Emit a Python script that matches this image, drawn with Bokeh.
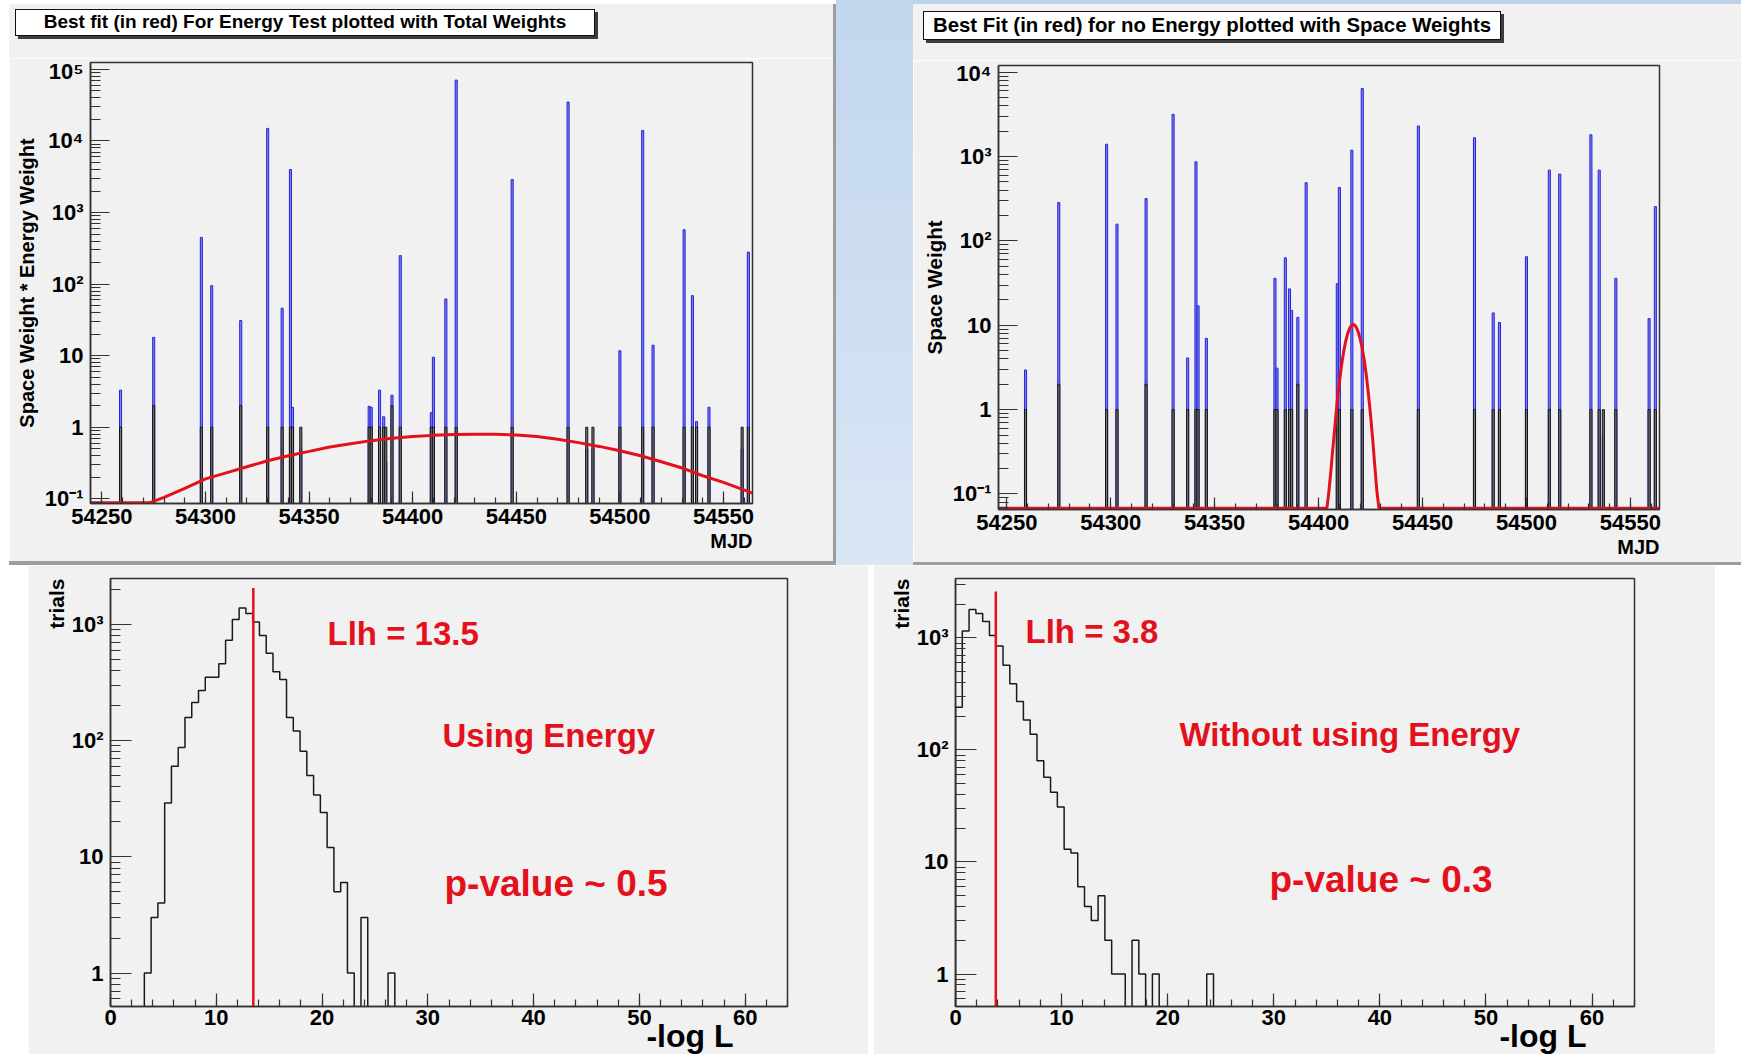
from bokeh.plotting import figure
from bokeh.models import Range1d, FixedTicker, CustomJSTickFormatter, Label, Div, Title
from bokeh.layouts import row, column
from bokeh.embed import file_html
from bokeh.resources import INLINE
import math

# ---------------- data ----------------
# event days (MJD bins), event counts (black histogram) and the two weightings (blue histograms)
event_mjd = [54259, 54275, 54298, 54303, 54317, 54330, 54337, 54341, 54342, 54346,
             54379, 54380, 54384, 54386, 54387, 54390, 54394, 54409, 54410, 54416,
             54421, 54448, 54475, 54484, 54487, 54500, 54511, 54516, 54531, 54535,
             54537, 54543, 54559, 54562]
event_counts = [1, 2, 1, 1, 2, 1, 1, 1, 1, 1,
                1, 1, 1, 1, 1, 2, 1, 1, 1, 1,
                1, 1, 1, 1, 1, 1, 1, 1, 1, 1,
                1, 1, 1, 1]
total_weights = [3.3, 18, 450, 95, 31, 15000, 46, 4000, 1.9, 0.5,
                 1.96, 1.9, 3.3, 1.4, 0.33, 2.8, 250, 1.6, 9.5, 62,
                 71000, 2900, 35000, 0.5, 0.5, 11.7, 14000, 14, 575, 69,
                 1.2, 1.9, 0.5, 280]
space_weights = [2.95, 285, 1400, 158, 317, 3165, 4.1, 865, 17, 7,
                 36, 3.1, 63, 27, 15, 12.4, 490, 31, 430, 1190,
                 6400, 2300, 1670, 14, 10.8, 65, 690, 620, 1810, 690,
                 0.5, 36, 12, 255]

# best-fit curves (red)
fit_energy_mjd = [54244.5, 54273, 54280, 54290, 54300, 54310, 54320, 54330, 54340, 54350,
                  54360, 54370, 54380, 54390, 54400, 54410, 54420, 54430, 54440, 54450,
                  54460, 54470, 54480, 54490, 54500, 54510, 54520, 54530, 54540, 54550, 54564]
fit_energy_val = [0.088, 0.088, 0.105, 0.14, 0.19, 0.23, 0.28, 0.34, 0.40, 0.46,
                  0.53, 0.59, 0.65, 0.70, 0.74, 0.77, 0.79, 0.80, 0.80, 0.78,
                  0.74, 0.68, 0.61, 0.54, 0.47, 0.40, 0.33, 0.27, 0.21, 0.17, 0.12]
fit_space_mjd = [54246, 54404, 54405, 54406, 54407, 54408, 54409, 54410, 54411, 54412,
                 54413, 54414, 54415, 54416, 54417, 54418, 54419, 54420, 54421, 54422,
                 54423, 54424, 54425, 54426, 54427, 54428, 54429, 54564]
fit_space_val = [0.068, 0.068, 0.11, 0.2, 0.38, 0.7, 1.3, 2.1, 3.3, 4.8,
                 6.4, 8.0, 9.3, 10.1, 10.2, 9.6, 8.4, 6.9, 5.3, 3.8,
                 2.5, 1.5, 0.85, 0.45, 0.22, 0.11, 0.068, 0.068]

# tick labels
mjd_ticks = [54250, 54300, 54350, 54400, 54450, 54500, 54550]
total_weight_ticks = [0.1, 1, 10, 100, 1000, 10000, 100000]
space_weight_ticks = [0.1, 1, 10, 100, 1000, 10000]
llh_ticks = [0, 10, 20, 30, 40, 50, 60]
trial_ticks = [1, 10, 100, 1000]

# trial histograms of -log L (100 bins on [0, 64])
llh_bin_width = 0.64
energy_first_bin = 5
energy_trials = [1, 3, 4, 29, 60, 87, 158, 213, 270, 350,
                 350, 458, 730, 1100, 1380, 1240, 1050, 800, 565, 390,
                 335, 158, 121, 81, 50, 34, 24, 12, 5, 6,
                 1, 0, 3, 0, 0, 0, 1]
noenergy_first_bin = 0
noenergy_trials = [240, 1150, 1790, 1650, 1400, 1050, 845, 570, 390, 270,
                   185, 138, 80, 57, 42, 31, 13, 12, 6, 4,
                   3, 5, 2, 1, 1, 0, 2, 1, 0, 1,
                   0, 0, 0, 0, 0, 0, 0, 1]
llh_energy = 13.5
llh_noenergy = 3.8
cut_top_energy = 2050
cut_top_noenergy = 2600

# ---------------- styling ----------------
FONT = "Liberation Sans"
BG = "#f1f1f1"
AX = "#333333"
RED = "#e3111c"

LOG_CODE = """
const e = Math.round(Math.log10(tick));
if (e === 0) return "1";
if (e === 1) return "10";
const m = {"-": "⁻", "0": "⁰", "1": "¹", "2": "²", "3": "³", "4": "⁴", "5": "⁵", "6": "⁶", "7": "⁷", "8": "⁸", "9": "⁹"};
return "10" + String(e).split("").map(c => m[c]).join("");
"""


def log_minor(lo, hi):
    return [k * 10.0 ** e for e in range(lo, hi + 1) for k in range(2, 10)]


def base_fig(width, height, xr, yr, borders, xticks, xminor, yticks, yminor,
             xlen, ylen, xstand):
    p = figure(width=width, height=height, x_range=Range1d(*xr), y_range=Range1d(*yr),
               y_axis_type="log", output_backend="svg", toolbar_location=None,
               min_border_left=borders[0], min_border_right=borders[1],
               min_border_top=borders[2], min_border_bottom=borders[3])
    p.title.visible = False
    p.background_fill_color = BG
    p.border_fill_color = BG
    p.outline_line_color = AX
    p.outline_line_width = 1.5
    p.xgrid.visible = False
    p.ygrid.visible = False
    xa = p.xaxis[0]
    ya = p.yaxis[0]
    xa.ticker = FixedTicker(ticks=xticks, minor_ticks=xminor)
    ya.ticker = FixedTicker(ticks=yticks, minor_ticks=yminor)
    xa.formatter = CustomJSTickFormatter(code="return tick.toFixed(0);")
    ya.formatter = CustomJSTickFormatter(code=LOG_CODE)
    for ax in (xa, ya):
        ax.axis_line_color = AX
        ax.axis_line_width = 1.5
        ax.major_tick_line_color = AX
        ax.minor_tick_line_color = AX
        ax.major_tick_line_width = 1.2
        ax.minor_tick_line_width = 1.2
        ax.major_tick_out = 0
        ax.minor_tick_out = 0
        ax.major_label_text_font = FONT
        ax.major_label_text_font_style = "bold"
        ax.major_label_text_font_size = "22px"
        ax.major_label_text_color = "black"
    xa.major_tick_in, xa.minor_tick_in = xlen
    ya.major_tick_in, ya.minor_tick_in = ylen
    xa.major_label_standoff = xstand
    ya.major_label_standoff = 7
    return p


def side_title(p, text, side, size, align, offset, standoff, valign):
    t = Title(text=text, align=align, offset=offset, vertical_align=valign,
              text_font=FONT, text_font_style="bold", text_font_size=size,
              text_color="black")
    try:
        t.standoff = standoff
    except Exception:
        t.standoff = 0
    p.add_layout(t, side)


def in_label(xr, yr, dx, dy, text, size):
    return Label(x=xr[0], y=yr[0], x_offset=dx, y_offset=dy, text=text,
                 text_align="left", text_baseline="middle",
                 text_font=FONT, text_font_style="bold", text_font_size=size,
                 text_color=RED)


def top_panel(width, height, borders, xr, yr, yticks, weights, fit_x, fit_y,
              ylabel, ylabel_size):
    exps = [round(math.log10(t)) for t in yticks]
    p = base_fig(width, height, xr, yr, borders,
                 mjd_ticks, list(range(54250, 54561, 10)),
                 yticks, log_minor(min(exps) - 1, max(exps)),
                 (12, 6), (19, 10), 5)
    floor = yr[0] * 1e-3
    n = len(event_mjd)
    lefts = [m - 0.5 for m in event_mjd]
    rights = [m + 0.5 for m in event_mjd]
    p.quad(left=lefts, right=rights, bottom=[floor] * n, top=weights,
           fill_color="#8282f0", line_color="#2424d8", line_width=1)
    p.quad(left=lefts, right=rights, bottom=[floor] * n, top=event_counts,
           fill_color="#7a7a7a", line_color="#141414", line_width=1)
    p.line(fit_x, fit_y, line_color=RED, line_width=3)
    ya = p.yaxis[0]
    ya.axis_label = ylabel
    ya.axis_label_text_font = FONT
    ya.axis_label_text_font_style = "bold"
    ya.axis_label_text_font_size = ylabel_size
    ya.axis_label_text_color = "black"
    ya.axis_label_standoff = 4
    side_title(p, "MJD", "below", "20px", "right", 0, 6, "top")
    return p


def outline(first_bin, counts, floor):
    xs = [first_bin * llh_bin_width]
    ys = [floor]
    hi = xs[0]
    for i, c in enumerate(counts):
        lo = (first_bin + i) * llh_bin_width
        hi = lo + llh_bin_width
        v = c if c > 0 else floor
        xs += [lo, hi]
        ys += [v, v]
    xs.append(hi)
    ys.append(floor)
    return xs, ys


def bottom_panel(width, height, borders, yr, first_bin, counts, llh, cut_top,
                 texts, logl_dx):
    xr = (0, 64)
    p = base_fig(width, height, xr, yr, borders,
                 llh_ticks, list(range(0, 65, 2)),
                 trial_ticks, log_minor(-1, 3), (13, 7), (21, 10), 3)
    floor = yr[0] * 1e-3
    xs, ys = outline(first_bin, counts, floor)
    p.line(xs, ys, line_color="#1a1a1a", line_width=1.5)
    p.line([llh, llh], [floor, cut_top], line_color=RED, line_width=2.5)
    for (dx, dy, t, s) in texts:
        p.add_layout(in_label(xr, yr, dx, dy, t, s))
    side_title(p, "-log L", "below", "32px", "right", logl_dx, -19, "top")
    side_title(p, "trials", "left", "21px", "right", 0, 0, "middle")
    return p


figTL = top_panel(824, 503, (81, 81, 4, 58), (54244.5, 54564), (0.086, 1.25e5),
                  total_weight_ticks, total_weights, fit_energy_mjd, fit_energy_val,
                  "Space Weight * Energy Weight", "20px")
figTR = top_panel(828, 502, (85, 82, 5, 53), (54246, 54564), (0.0655, 1.2e4),
                  space_weight_ticks, space_weights, fit_space_mjd, fit_space_val,
                  "Space Weight", "20.5px")

figBL = bottom_panel(840, 489, (82, 81, 13, 48), (0.515, 2480), energy_first_bin,
                     energy_trials, llh_energy, cut_top_energy,
                     [(217, 373, "Llh = 13.5", "33px"),
                      (332, 271, "Using Energy", "33px"),
                      (334, 123, "p-value ~ 0.5", "37px")], 54)
figBR = bottom_panel(842, 489, (82, 81, 13, 48), (0.513, 3390), noenergy_first_bin,
                     noenergy_trials, llh_noenergy, cut_top_noenergy,
                     [(70, 375, "Llh = 3.8", "33px"),
                      (224, 272, "Without using Energy", "33px"),
                      (314, 127, "p-value ~ 0.3", "37px")], 48)


def block(w, h, color):
    return Div(text="", width=w, height=h, margin=(0, 0, 0, 0), styles={"background": color})


def title_block(w, h, text, left, top, bw, bh, size, lh):
    html = ('<div style="margin:%dpx 0 0 %dpx; width:%dpx; height:%dpx; box-sizing:border-box; '
            'border:1.5px solid #111; background:#ffffff; box-shadow:3px 3px 0 #3c3c3c; '
            "font-family:'Liberation Sans',Arial,sans-serif; font-weight:bold; font-size:%s; "
            'line-height:%dpx; text-align:center; color:#000; white-space:nowrap;">%s</div>'
            % (top, left, bw, bh, size, lh, text))
    return Div(text=html, width=w, height=h, margin=(0, 0, 0, 0), styles={"background": BG})


SHADOW = "#9d9d9d"
titleTL = title_block(824, 54, "Best fit (in red) For Energy Test plotted with Total Weights",
                      6, 5, 580, 27, "19px", 24)
titleTR = title_block(828, 56, "Best Fit (in red) for no Energy plotted with Space Weights",
                      10, 7, 578, 29, "20.4px", 26)

colTL = column(block(827, 4, "white"),
               row(column(titleTL, figTL, spacing=0), block(3, 557, SHADOW), spacing=0),
               block(827, 4, SHADOW), spacing=0)
colTR = column(block(828, 4, "#bcd3ec"), titleTR, figTR, block(828, 3, SHADOW), spacing=0)
top_row = row(block(9, 565, "white"), colTL,
              block(77, 565, "linear-gradient(180deg, #c2d6ee 0%, #d9e6f5 100%)"),
              colTR, spacing=0)
bottom_row = row(block(28, 489, "white"), figBL, block(5, 489, "white"), figBR,
                 block(26, 489, "white"), spacing=0)
page = column(top_row, bottom_row, spacing=0)

open("out.html", "w").write(file_html(page, INLINE))
